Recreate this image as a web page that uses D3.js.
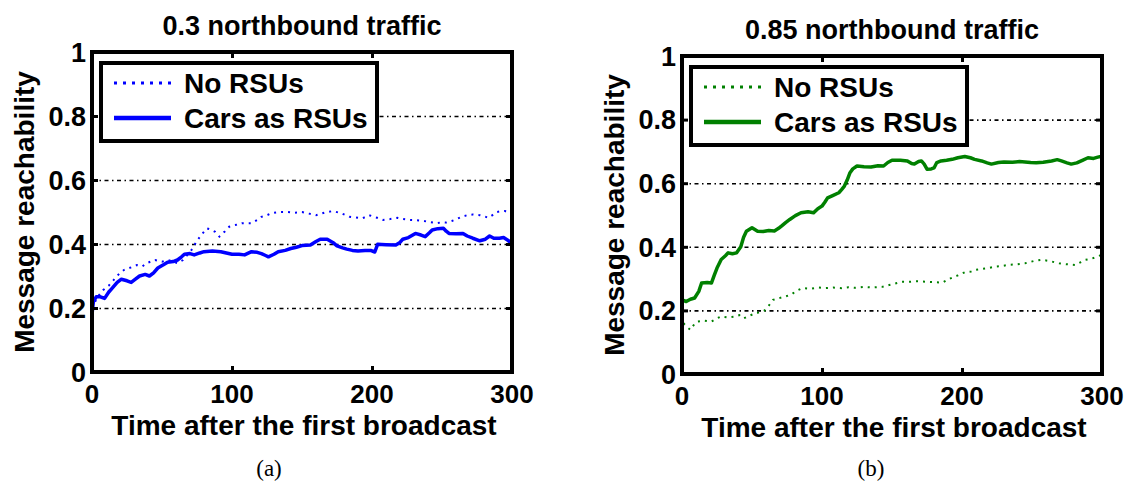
<!DOCTYPE html>
<html>
<head>
<meta charset="utf-8">
<script src="https://cdn.jsdelivr.net/npm/d3@7"></script>
<style>
  body { margin: 0; background: #fff; }
  svg text { font-family: 'Liberation Sans', Arial, sans-serif; font-weight: bold; fill: #000; }
  svg text.caption { font-family: 'Liberation Serif', 'Times New Roman', serif; font-weight: normal; }
</style>
</head>
<body>
<div id="container"></div>
<script>
    // tick labels / text
    const timeTicks = [0, 100, 200, 300];
    const reachTicks = [0, 0.2, 0.4, 0.6, 0.8, 1];
    const seriesNames = ['No RSUs', 'Cars as RSUs'];
    const panelTitles = ['0.3 northbound traffic', '0.85 northbound traffic'];
    const captions = ['(a)', '(b)'];
    const xLabel = 'Time after the first broadcast';
    const yLabel = 'Message reachability';

    // (a) 0.3 northbound traffic  -- [time, reachability]
    const noRsu03 = [[0,0.2],[4,0.235],[8,0.256],[12,0.27],[16,0.29],[20,0.31],[23,0.319],[28,0.327],[32,0.334],[36,0.33],[39,0.34],[42,0.345],[45,0.35],[50,0.345],[54,0.35],[58,0.345],[61,0.34],[65,0.35],[68,0.365],[71,0.381],[75,0.41],[78,0.428],[82,0.449],[85,0.445],[88,0.438],[91,0.423],[95,0.44],[98,0.454],[103,0.46],[107,0.465],[114,0.465],[118,0.475],[121,0.485],[125,0.49],[128,0.496],[134,0.5],[140,0.5],[145,0.498],[150,0.5],[155,0.495],[160,0.49],[166,0.498],[172,0.503],[178,0.496],[184,0.485],[188,0.483],[193,0.48],[198,0.49],[203,0.483],[208,0.475],[213,0.478],[218,0.482],[222,0.478],[227,0.475],[232,0.474],[237,0.472],[242,0.468],[246,0.465],[250,0.468],[253,0.467],[257,0.472],[260,0.477],[264,0.485],[268,0.49],[272,0.492],[277,0.49],[280,0.487],[283,0.482],[286,0.49],[289,0.5],[292,0.502],[295,0.503],[298,0.498],[300,0.496]];
    const carsRsu03 = [[0,0.18],[1,0.22],[3,0.235],[6,0.235],[9,0.23],[12,0.25],[14,0.26],[18,0.28],[21,0.29],[25,0.285],[28,0.28],[31,0.29],[34,0.3],[38,0.305],[41,0.3],[44,0.31],[47,0.325],[51,0.335],[54,0.343],[58,0.345],[61,0.35],[64,0.36],[66,0.368],[70,0.37],[73,0.366],[77,0.372],[80,0.376],[86,0.378],[92,0.376],[96,0.372],[100,0.368],[105,0.368],[109,0.366],[112,0.372],[114,0.376],[118,0.374],[121,0.37],[124,0.364],[126,0.36],[130,0.368],[133,0.376],[138,0.38],[142,0.386],[146,0.39],[150,0.395],[156,0.397],[160,0.408],[163,0.415],[168,0.415],[172,0.405],[175,0.394],[179,0.388],[182,0.384],[186,0.38],[190,0.378],[195,0.38],[199,0.38],[202,0.375],[204,0.399],[210,0.398],[217,0.397],[220,0.405],[222,0.415],[226,0.42],[231,0.433],[235,0.428],[238,0.423],[241,0.435],[243,0.444],[247,0.448],[251,0.449],[253,0.44],[255,0.433],[260,0.432],[265,0.433],[268,0.425],[272,0.418],[277,0.41],[281,0.415],[284,0.425],[287,0.418],[291,0.418],[294,0.42],[297,0.412],[300,0.4]];

    // (b) 0.85 northbound traffic
    const noRsu085 = [[0,0.139],[1,0.16],[3,0.15],[6,0.139],[9,0.158],[11,0.165],[16,0.168],[21,0.165],[25,0.175],[28,0.181],[33,0.178],[37,0.18],[41,0.185],[44,0.175],[48,0.183],[52,0.19],[56,0.195],[59,0.2],[62,0.215],[65,0.233],[69,0.238],[74,0.244],[78,0.25],[82,0.262],[86,0.27],[92,0.268],[97,0.272],[102,0.27],[108,0.272],[114,0.27],[119,0.273],[124,0.271],[130,0.274],[136,0.272],[143,0.274],[148,0.28],[152,0.284],[157,0.29],[163,0.29],[168,0.292],[174,0.29],[180,0.289],[186,0.287],[190,0.297],[193,0.303],[197,0.31],[202,0.32],[207,0.322],[210,0.328],[214,0.33],[219,0.333],[224,0.338],[229,0.34],[233,0.343],[239,0.345],[245,0.348],[251,0.355],[257,0.359],[263,0.355],[269,0.348],[275,0.345],[281,0.343],[285,0.352],[288,0.359],[292,0.362],[296,0.368],[300,0.375]];
    const carsRsu085 = [[0,0.233],[3,0.228],[6,0.235],[9,0.239],[12,0.26],[14,0.286],[18,0.288],[21,0.286],[23,0.31],[25,0.333],[28,0.36],[31,0.372],[33,0.381],[36,0.378],[39,0.381],[42,0.4],[44,0.43],[46,0.449],[50,0.46],[54,0.449],[58,0.448],[62,0.451],[66,0.45],[69,0.458],[71,0.465],[74,0.476],[77,0.486],[81,0.498],[85,0.507],[90,0.51],[94,0.507],[97,0.52],[100,0.528],[102,0.54],[104,0.554],[108,0.562],[112,0.57],[114,0.58],[116,0.591],[118,0.61],[120,0.633],[122,0.645],[125,0.654],[130,0.652],[135,0.651],[140,0.655],[144,0.654],[147,0.665],[150,0.672],[156,0.672],[161,0.67],[164,0.662],[166,0.66],[169,0.668],[171,0.67],[173,0.66],[175,0.644],[178,0.645],[180,0.648],[182,0.665],[185,0.67],[189,0.672],[193,0.675],[197,0.68],[202,0.684],[206,0.68],[209,0.675],[214,0.67],[218,0.664],[221,0.66],[226,0.665],[230,0.667],[236,0.666],[241,0.668],[245,0.667],[249,0.665],[253,0.664],[258,0.666],[264,0.67],[268,0.674],[271,0.67],[275,0.664],[278,0.66],[282,0.664],[286,0.672],[290,0.68],[294,0.678],[297,0.682],[300,0.685]];

    const svg = d3.select('#container').append('svg')
      .attr('width', 1131)
      .attr('height', 485);

    const panels = [
      { left: 92, right: 512, top: 52, bottom: 372, color: '#0000ff', series: [noRsu03, carsRsu03], captionX: 269 },
      { left: 682, right: 1102, top: 56, bottom: 374, color: '#008000', series: [noRsu085, carsRsu085], captionX: 871 }
    ];

    panels.forEach((p, i) => {
      const x = d3.scaleLinear().domain([0, 300]).range([p.left, p.right]);
      const y = d3.scaleLinear().domain([0, 1]).range([p.bottom, p.top]);
      const g = svg.append('g');

      // dash-dot grid lines
      g.append('g')
        .attr('transform', `translate(${p.left},0)`)
        .call(d3.axisRight(y)
          .tickValues(reachTicks.filter(d => d > 0 && d < 1))
          .tickSize(p.right - p.left)
          .tickFormat(''))
        .call(a => a.select('.domain').remove())
        .selectAll('line')
        .attr('stroke', '#000')
        .attr('stroke-width', 1.6)
        .attr('stroke-dasharray', '4,3.5,1.5,3.5');

      g.append('clipPath').attr('id', 'clip' + i)
        .append('rect')
        .attr('x', p.left).attr('y', p.top)
        .attr('width', p.right - p.left).attr('height', p.bottom - p.top);

      const line = d3.line().x(d => x(d[0])).y(d => y(d[1]));

      // series lines
      g.append('path')
        .datum(p.series[0])
        .attr('clip-path', `url(#clip${i})`)
        .attr('fill', 'none')
        .attr('stroke', p.color)
        .attr('stroke-width', 2)
        .attr('stroke-dasharray', '2,5')
        .attr('d', line);

      g.append('path')
        .datum(p.series[1])
        .attr('clip-path', `url(#clip${i})`)
        .attr('fill', 'none')
        .attr('stroke', p.color)
        .attr('stroke-width', 3.5)
        .attr('stroke-linejoin', 'round')
        .attr('d', line);

      // legend
      const lx = p.left + 9, ly = p.top + 11;
      const legend = g.append('g').attr('transform', `translate(${lx},${ly})`);
      legend.append('rect')
        .attr('width', 276).attr('height', 78)
        .attr('fill', '#fff')
        .attr('stroke', '#000')
        .attr('stroke-width', 4);
      seriesNames.forEach((name, k) => {
        const yy = 20 + k * 35;
        legend.append('line')
          .attr('x1', 13).attr('x2', 70)
          .attr('y1', yy).attr('y2', yy)
          .attr('stroke', p.color)
          .attr('stroke-width', k === 0 ? 3 : 4.5)
          .attr('stroke-dasharray', k === 0 ? '3,6' : null);
        legend.append('text')
          .attr('x', 83).attr('y', yy)
          .attr('dy', '0.36em')
          .attr('font-size', 28)
          .text(name);
      });

      // frame
      g.append('rect')
        .attr('x', p.left).attr('y', p.top)
        .attr('width', p.right - p.left).attr('height', p.bottom - p.top)
        .attr('fill', 'none')
        .attr('stroke', '#000')
        .attr('stroke-width', 4);

      // inner tick marks on all four sides
      const tickStyle = s => s.call(a => a.select('.domain').remove())
        .selectAll('line').attr('stroke', '#000').attr('stroke-width', 3);
      g.append('g').attr('transform', `translate(0,${p.bottom})`)
        .call(d3.axisTop(x).tickValues(timeTicks).tickSize(6).tickFormat('')).call(tickStyle);
      g.append('g').attr('transform', `translate(0,${p.top})`)
        .call(d3.axisBottom(x).tickValues(timeTicks).tickSize(6).tickFormat('')).call(tickStyle);
      g.append('g').attr('transform', `translate(${p.left},0)`)
        .call(d3.axisRight(y).tickValues(reachTicks).tickSize(6).tickFormat('')).call(tickStyle);
      g.append('g').attr('transform', `translate(${p.right},0)`)
        .call(d3.axisLeft(y).tickValues(reachTicks).tickSize(6).tickFormat('')).call(tickStyle);

      // tick labels
      g.selectAll('.xt').data(timeTicks).enter().append('text')
        .attr('x', d => x(d))
        .attr('y', p.bottom + 31)
        .attr('text-anchor', 'middle')
        .attr('font-size', 26)
        .text(d => d);
      g.selectAll('.yt').data(reachTicks).enter().append('text')
        .attr('x', p.left - 6)
        .attr('y', d => y(d))
        .attr('dy', '0.36em')
        .attr('text-anchor', 'end')
        .attr('font-size', 27)
        .text(d => d3.format('~g')(d));

      // titles, axis labels
      g.append('text')
        .attr('x', (p.left + p.right) / 2)
        .attr('y', p.top - 17)
        .attr('text-anchor', 'middle')
        .attr('font-size', 27)
        .text(panelTitles[i]);
      g.append('text')
        .attr('x', (p.left + p.right) / 2 + 2)
        .attr('y', p.bottom + 63)
        .attr('text-anchor', 'middle')
        .attr('font-size', 28)
        .text(xLabel);
      g.append('text')
        .attr('transform', `translate(${p.left - 58},${(p.top + p.bottom) / 2}) rotate(-90)`)
        .attr('text-anchor', 'middle')
        .attr('font-size', 28)
        .text(yLabel);
      g.append('text')
        .attr('class', 'caption')
        .attr('x', p.captionX)
        .attr('y', 476)
        .attr('text-anchor', 'middle')
        .attr('font-size', 23)
        .text(captions[i]);
    });
</script>
</body>
</html>
